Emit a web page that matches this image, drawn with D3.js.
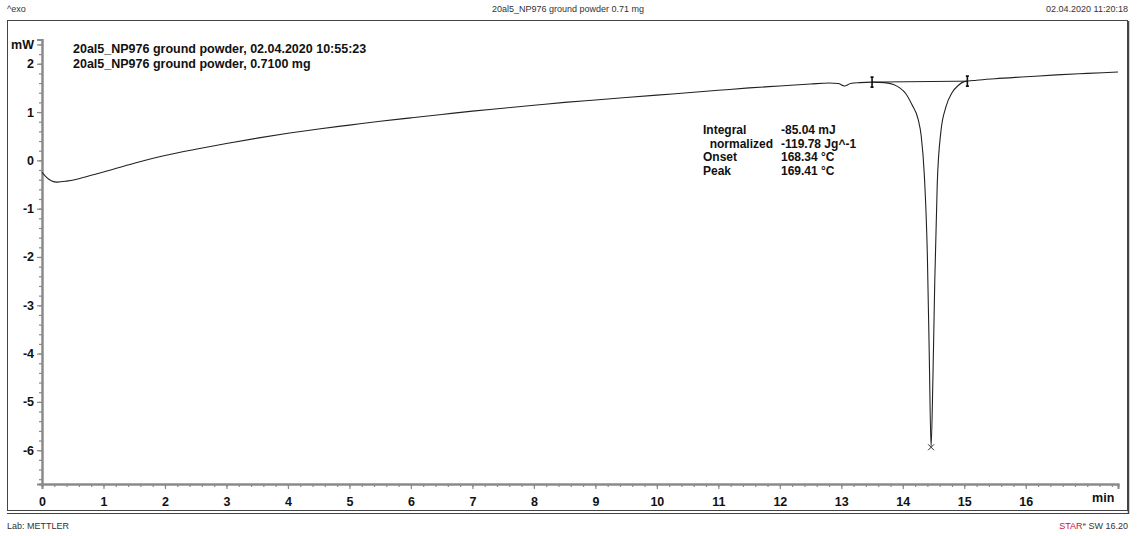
<!DOCTYPE html>
<html>
<head>
<meta charset="utf-8">
<script src="https://cdn.jsdelivr.net/npm/d3@7"></script>
<style>
  body { margin: 0; background: #fff; }
  svg { display: block; font-family: "Liberation Sans", Arial, sans-serif; }
</style>
</head>
<body>
<div id="chart"></div>
<script>
// DSC curve, heat flow (mW) vs time (min)
const timeMin = [0, 0.05, 0.1, 0.15, 0.25, 0.4, 0.6, 0.8, 1.0, 1.5, 2, 2.5, 3, 3.5, 4, 4.5, 5, 5.5, 6, 6.5,
  7, 7.5, 8, 8.5, 9, 9.5, 10, 10.5, 11, 11.5, 12, 12.5, 12.8, 12.95, 13.05, 13.15, 13.3, 13.5, 13.7, 13.85,
  13.95, 14.05, 14.15, 14.25, 14.3, 14.35, 14.4, 14.43, 14.46, 14.49, 14.52, 14.56, 14.62, 14.7, 14.8, 14.9,
  15.0, 15.2, 15.5, 16, 16.5, 17, 17.5];
const heatFlow = [-0.25, -0.32, -0.38, -0.42, -0.45, -0.43, -0.38, -0.31, -0.24, -0.06, 0.10, 0.23, 0.35, 0.46, 0.56, 0.65, 0.73, 0.81, 0.88, 0.95,
  1.02, 1.08, 1.14, 1.20, 1.25, 1.30, 1.35, 1.40, 1.45, 1.50, 1.54, 1.58, 1.60, 1.59, 1.54, 1.59, 1.61, 1.62, 1.61, 1.57,
  1.50, 1.38, 1.15, 0.85, 0.50, -0.30, -2.0, -4.0, -5.94, -4.5, -2.5, -0.5, 0.6, 1.1, 1.4, 1.55,
  1.63, 1.66, 1.69, 1.73, 1.77, 1.80, 1.83];

const baselineLimits = [[13.5, 1.62], [15.05, 1.64]];
const peakPoint = [14.46, -5.94];

const xTicks = d3.range(0, 17);
const yTicks = [-6, -5, -4, -3, -2, -1, 0, 1, 2];

const resultLabels = ['Integral', '  normalized', 'Onset', 'Peak'];
const resultValues = ['-85.04 mJ', '-119.78 Jg^-1', '168.34 \u00B0C', '169.41 \u00B0C'];
const legendLines = ['20al5_NP976 ground powder, 02.04.2020 10:55:23', '20al5_NP976 ground powder, 0.7100 mg'];

const width = 1137, height = 536;
const svg = d3.select('#chart').append('svg')
  .attr('width', width)
  .attr('height', height);

const x = d3.scaleLinear().domain([0, 17.5]).range([42, 1118]);
const y = d3.scaleLinear().domain([-6.7, 2.5]).range([484, 39.6]);

// header / footer text
svg.append('text').attr('x', 7).attr('y', 12).attr('font-size', 9).attr('fill', '#333').text('^exo');
svg.append('text').attr('x', 568).attr('y', 12).attr('font-size', 9).attr('fill', '#333')
  .attr('text-anchor', 'middle').text('20al5_NP976 ground powder 0.71 mg');
svg.append('text').attr('x', 1128).attr('y', 12).attr('font-size', 9).attr('fill', '#333')
  .attr('text-anchor', 'end').text('02.04.2020 11:20:18');
svg.append('text').attr('x', 7).attr('y', 529).attr('font-size', 9).attr('fill', '#333').text('Lab: METTLER');
const star = svg.append('text').attr('x', 1128).attr('y', 529).attr('font-size', 9).attr('fill', '#333')
  .attr('text-anchor', 'end');
star.append('tspan').attr('fill', '#c8102e').text('STAR');
star.append('tspan').attr('font-size', 6).attr('dy', -3).text('e');
star.append('tspan').attr('dy', 3).text(' SW 16.20');

// frame
svg.append('rect').attr('x', 7.5).attr('y', 20.5).attr('width', 1120).attr('height', 490)
  .attr('fill', 'none').attr('stroke', '#444').attr('stroke-width', 1);
svg.append('line').attr('x1', 1128.5).attr('x2', 1128.5).attr('y1', 21).attr('y2', 514)
  .attr('stroke', '#444').attr('stroke-width', 1.5);
svg.append('line').attr('x1', 7).attr('x2', 1129).attr('y1', 513.5).attr('y2', 513.5)
  .attr('stroke', '#444').attr('stroke-width', 1);

// axes
const axisColor = '#8a8a8a';
const yMinor = d3.range(-6.6, 2.41, 0.2).map(v => +v.toFixed(1));
const xMinor = d3.range(0, 17.41, 0.2).map(v => +v.toFixed(1));
const fmt = d => String(d); // plain hyphen minus like the original

const yAxis = svg.append('g').attr('transform', `translate(${x(0)},0)`);
yAxis.call(d3.axisLeft(y).tickValues(yMinor).tickSize(3).tickFormat(''));
yAxis.append('g').call(d3.axisLeft(y).tickValues(yTicks.concat([2.4])).tickSize(5)
  .tickFormat(d => d === 2.4 ? 'mW' : fmt(d)));

const xAxis = svg.append('g').attr('transform', `translate(0,${y(-6.7)})`);
xAxis.call(d3.axisBottom(x).tickValues(xMinor).tickSize(3).tickFormat(''));
xAxis.append('g').call(d3.axisBottom(x).tickValues(xTicks).tickSize(5).tickFormat(fmt));

svg.selectAll('.domain').attr('stroke', axisColor).attr('stroke-width', 2);
svg.selectAll('.tick line').attr('stroke', axisColor).attr('stroke-width', 1.2);
svg.selectAll('.tick text').attr('fill', '#111').attr('font-size', 12.5).attr('font-weight', 'bold')
  .attr('font-family', '"Liberation Sans", Arial, sans-serif');
xAxis.selectAll('.tick text').attr('dy', '1.1em');

svg.append('text').attr('x', x(17.44)).attr('y', 502).attr('text-anchor', 'end')
  .attr('font-size', 12.5).attr('font-weight', 'bold').attr('fill', '#111').text('min');

// legend
svg.selectAll('.legend').data(legendLines).join('text')
  .attr('class', 'legend')
  .attr('x', 73).attr('y', (d, i) => 53 + i * 15)
  .attr('font-size', 12.5).attr('font-weight', 'bold').attr('fill', '#111')
  .text(d => d);

// curve
const pts = timeMin.map((t, i) => [t, heatFlow[i]]);
const line = d3.line().x(d => x(d[0])).y(d => y(d[1])).curve(d3.curveMonotoneX);
svg.append('path').datum(pts)
  .attr('fill', 'none').attr('stroke', '#222').attr('stroke-width', 1.1)
  .attr('d', line);

// integration baseline and limit markers
svg.append('line')
  .attr('x1', x(baselineLimits[0][0])).attr('y1', y(baselineLimits[0][1]))
  .attr('x2', x(baselineLimits[1][0])).attr('y2', y(baselineLimits[1][1]))
  .attr('stroke', '#222').attr('stroke-width', 1);
baselineLimits.forEach(p => {
  const cx = x(p[0]), cy = y(p[1]);
  svg.append('path')
    .attr('d', `M${cx},${cy - 5}V${cy + 5}M${cx - 1.5},${cy - 5}H${cx + 1.5}M${cx - 1.5},${cy + 5}H${cx + 1.5}`)
    .attr('stroke', '#111').attr('stroke-width', 1.6).attr('fill', 'none');
});

// peak marker
{
  const cx = x(peakPoint[0]), cy = y(peakPoint[1]);
  svg.append('path')
    .attr('d', `M${cx - 3},${cy - 3}L${cx + 3},${cy + 3}M${cx - 3},${cy + 3}L${cx + 3},${cy - 3}`)
    .attr('stroke', '#333').attr('stroke-width', 1);
}

// results
const res = svg.append('g').attr('font-size', 12).attr('font-weight', 'bold').attr('fill', '#111');
res.selectAll('.lab').data(resultLabels).join('text')
  .attr('x', 703).attr('y', (d, i) => 134 + i * 13.7)
  .attr('xml:space', 'preserve').style('white-space', 'pre')
  .text(d => d);
res.selectAll('.val').data(resultValues).join('text')
  .attr('x', 781).attr('y', (d, i) => 134 + i * 13.7)
  .text(d => d);
</script>
</body>
</html>
